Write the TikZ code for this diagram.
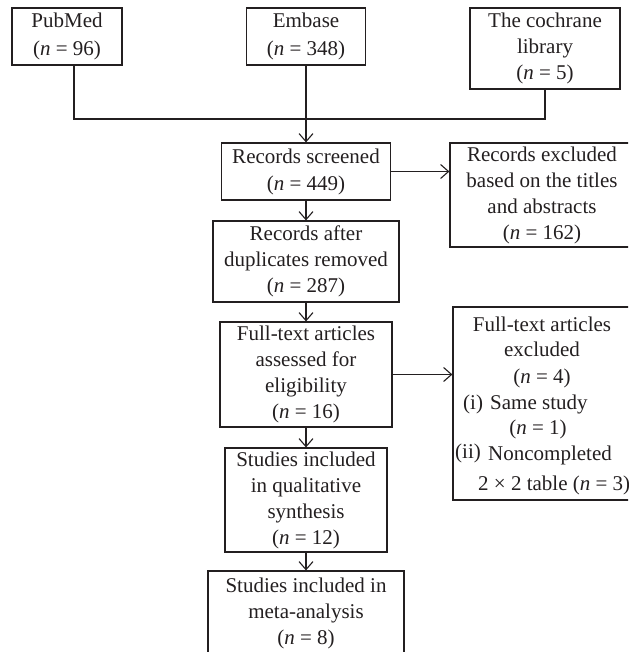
\documentclass[tikz,border=0pt]{standalone}
\usepackage{fontspec}
\setmainfont{Liberation Serif}
\usetikzlibrary{arrows.meta}
\definecolor{ink}{HTML}{231F20}
\newcommand\fsz{\fontsize{21}{26}\selectfont}
\begin{document}
\begin{tikzpicture}[x=1pt,y=-1pt,
  box/.style={draw=ink, line width=1.2pt, align=center, inner sep=0pt, text=ink, font=\fsz},
  txt/.style={inner sep=0pt, text=ink, font=\fsz},
  link/.style={draw=ink, line width=1.2pt},
  arr/.style={draw=ink, line width=1.2pt, -{Straight Barb[length=8pt,width=14pt,line width=1.1pt]}}]
\useasboundingbox (0,0) rectangle (628,652);
\clip (0,0) rectangle (628,652);
% sources
\node[box, minimum width=110pt, minimum height=57pt] (pub) at (67,36.5) {PubMed\\[2pt](\textit{n} = 96)};
\node[box, minimum width=119pt, minimum height=57pt] (emb) at (306,36.5) {Embase\\[2pt](\textit{n} = 348)};
\node[box, minimum width=150pt, minimum height=81pt] (coch) at (545,48.5) {The cochrane\\library\\(\textit{n} = 5)};
% main column
\node[box, minimum width=169pt, minimum height=57pt] (scr) at (306,171.5) {Records screened\\[1pt](\textit{n} = 449)};
\node[box, minimum width=186pt, minimum height=81pt] (dup) at (306,261.5) {Records after\\duplicates removed\\(\textit{n} = 287)};
\node[box, minimum width=172pt, minimum height=105pt] (ft) at (306,374.5) {Full-text articles\\assessed for\\eligibility\\(\textit{n} = 16)};
\node[box, minimum width=162pt, minimum height=104pt] (qual) at (306,500) {Studies included\\in qualitative\\synthesis\\(\textit{n} = 12)};
\node[box, minimum width=196pt, minimum height=84pt] (meta) at (306,613) {Studies included in\\meta-analysis\\(\textit{n} = 8)};
% exclusion boxes
\node[box, minimum width=184pt, minimum height=104pt] (ex1) at (542,195) {Records excluded\\based on the titles\\and abstracts\\(\textit{n} = 162)};
\node[box, minimum width=178pt, minimum height=193pt] (ex2) at (542,403.5) {};
\node[txt, anchor=base] (e2a) at (542,331) {Full-text articles};
\node[txt, anchor=base] (e2b) at (542,356) {excluded};
\node[txt, anchor=base] (e2c) at (542,383) {(\textit{n} = 4)};
\node[txt, anchor=base west] (e2d) at (463,409) {(i)};
\node[txt, anchor=base west] (e2e) at (490,409) {Same study};
\node[txt, anchor=base] (e2f) at (538,434) {(\textit{n} = 1)};
\node[txt, anchor=base west] (e2g) at (455,458) {(ii)};
\node[txt, anchor=base west] (e2h) at (488,460) {Noncompleted};
\node[txt, anchor=base west] (e2i) at (478,490) {2 × 2 table (\textit{n} = 3)};
% junctions
\coordinate (j1) at (74,119);
\coordinate (j2) at (306,119);
\coordinate (j3) at (545,119);
% connectors
\draw[link] (pub.south -| j1) -- (j1) -- (j3) -- (coch.south -| j3);
\draw[arr] (emb.south) -- (scr.north);
\draw[arr] (scr.south) -- (dup.north);
\draw[arr] (dup.south) -- (ft.north);
\draw[arr] (ft.south) -- (qual.north);
\draw[arr] (qual.south) -- (meta.north);
\draw[arr] (scr.east) -- (scr.east -| ex1.west);
\draw[arr] (ft.east) -- (ft.east -| ex2.west);
\end{tikzpicture}
\end{document}
